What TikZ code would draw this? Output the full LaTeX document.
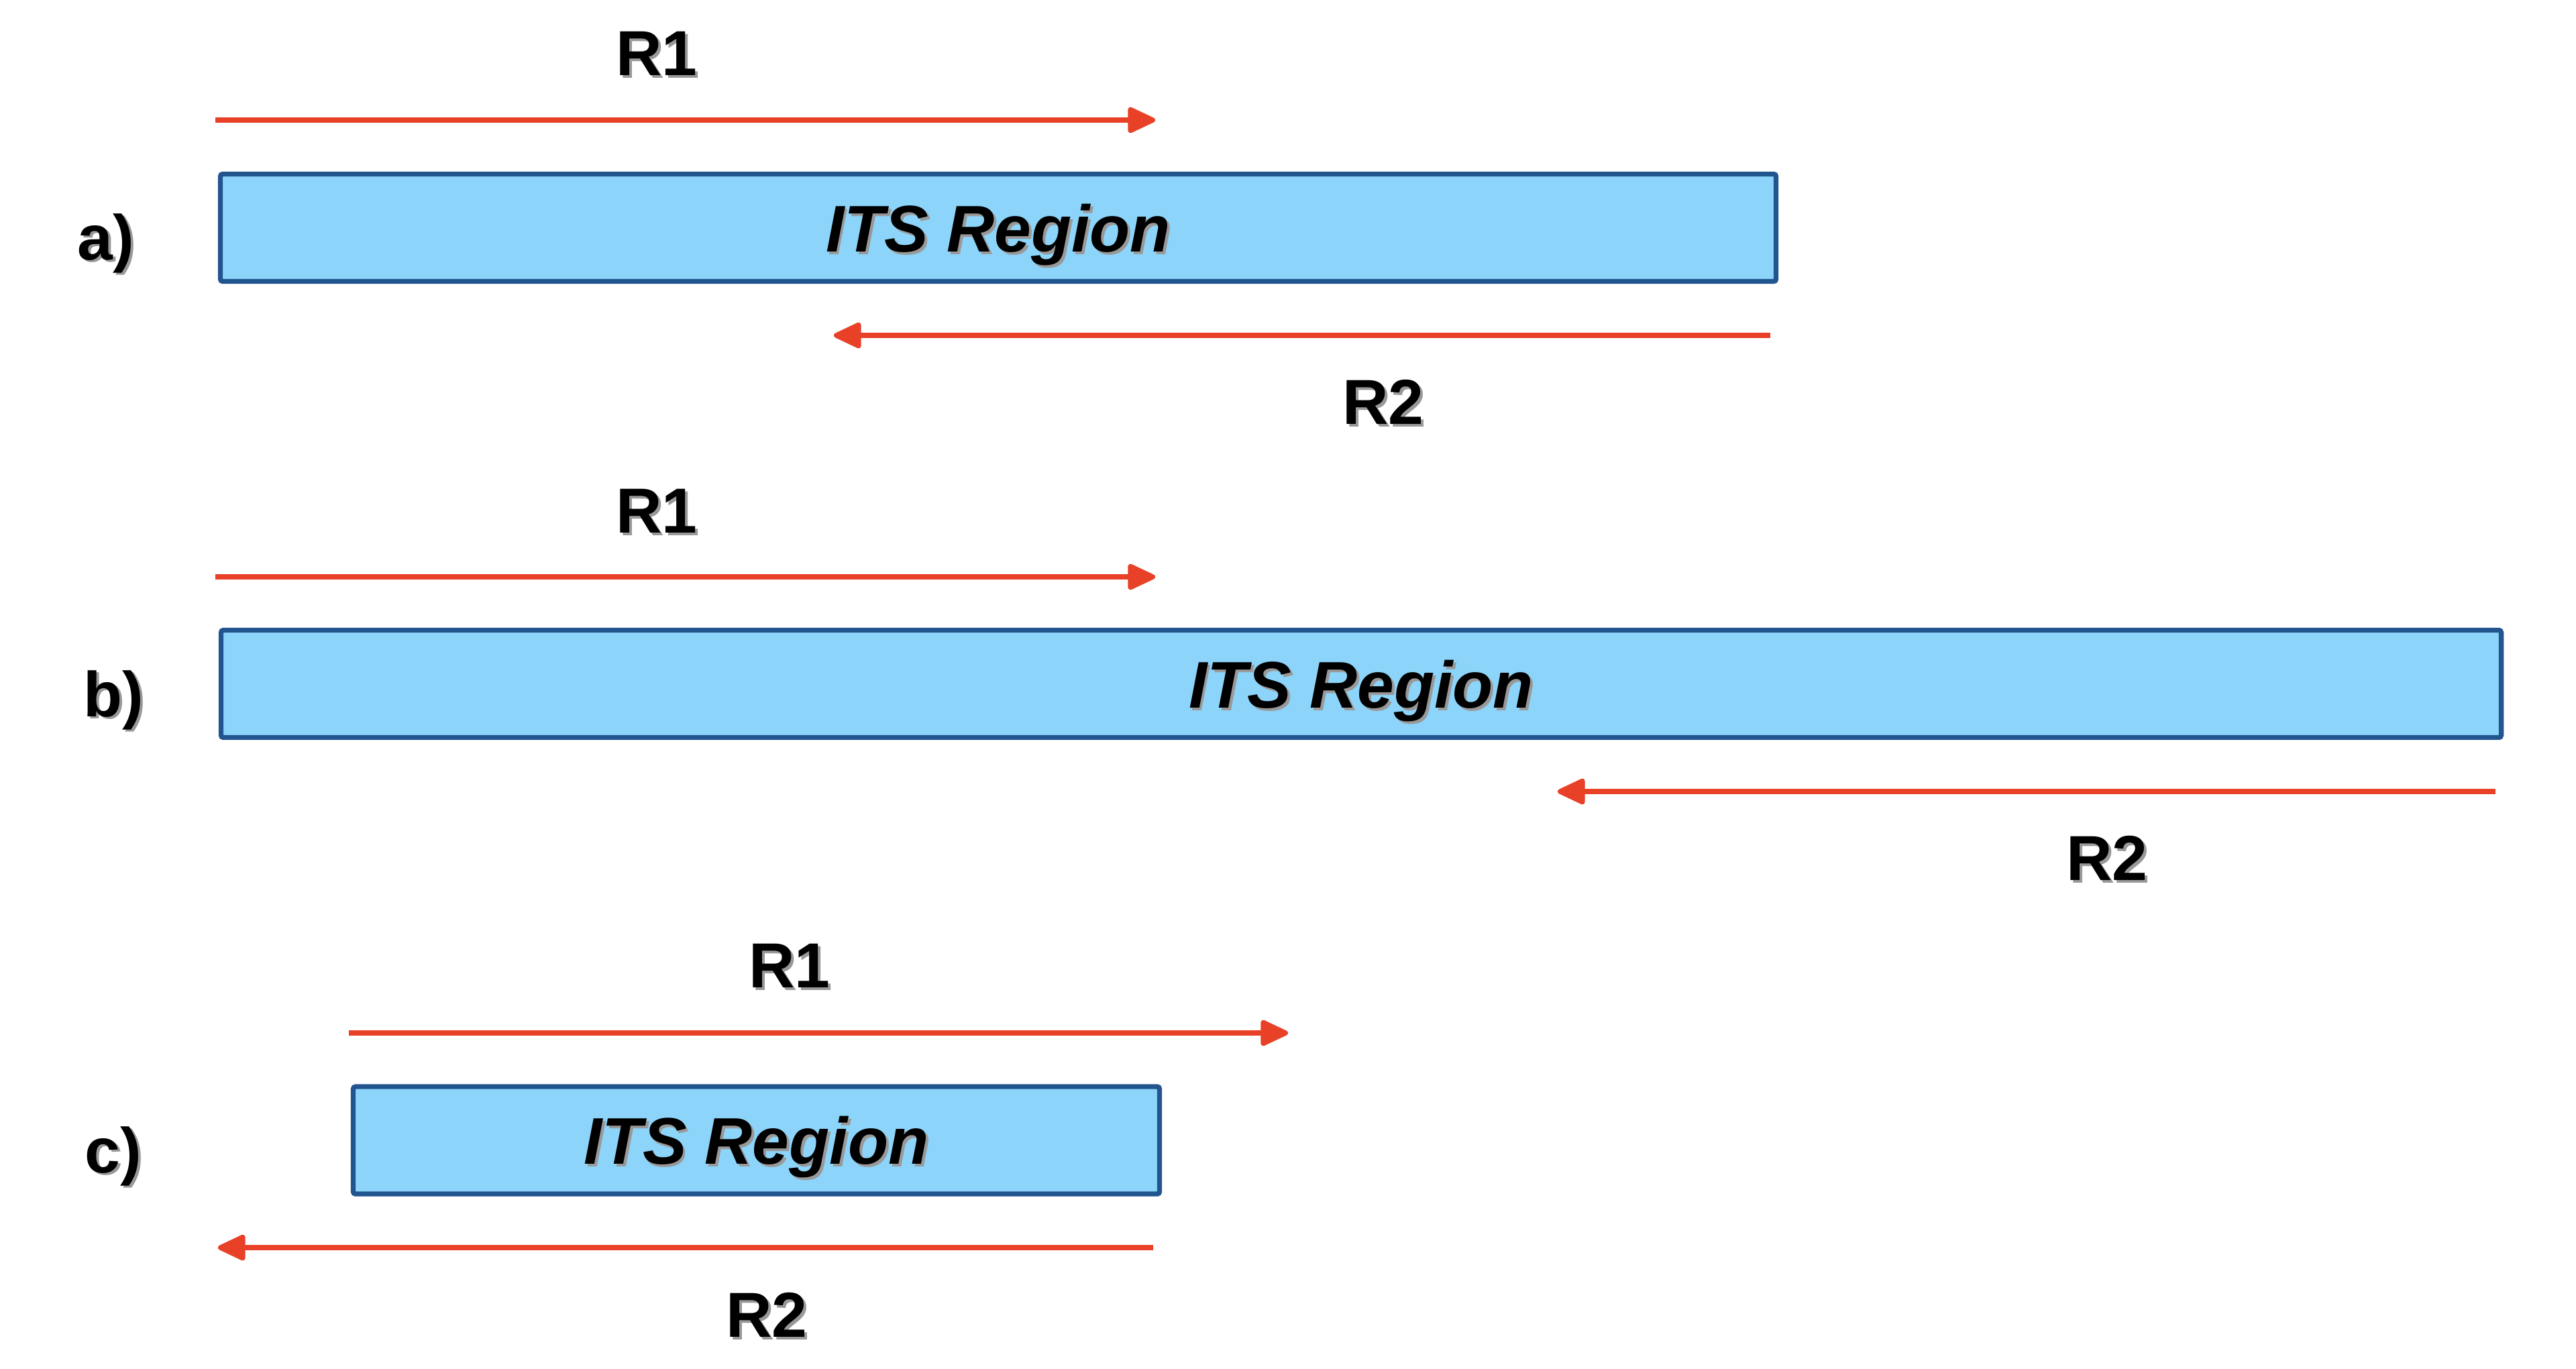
\documentclass[tikz,border=0pt]{standalone}
\usepackage{fontspec}
\setmainfont{Liberation Sans}
\usetikzlibrary{arrows.meta}
\definecolor{boxfill}{RGB}{141,212,250}
\definecolor{boxline}{RGB}{34,85,143}
\definecolor{arrred}{RGB}{232,65,40}
\newcommand\shtxt[1]{\leavevmode\rlap{\hspace{1.1pt}\raisebox{-1.1pt}{\textcolor{black!40}{#1}}}#1}
\tikzset{
  region/.style={draw=boxline, fill=boxfill, line width=2.1pt, rounded corners=1pt,
    inner sep=0pt, text depth=0pt, minimum height=1.60cm,
    font=\fontsize{28}{30}\selectfont\bfseries\itshape},
  lbl/.style={inner sep=0pt, text depth=0pt, font=\fontsize{27}{30}\selectfont\bfseries},
  tag/.style={inner sep=0pt, anchor=base, font=\fontsize{27}{30}\selectfont\bfseries},
  rarrow/.style={draw=arrred, line width=2.1pt,
    -{Triangle[length=4.6mm,width=4.1mm,round]}}
}
\begin{document}
\begin{tikzpicture}
\useasboundingbox (0,0) rectangle (38.4,-20.4);
% ---------- a)
\node[tag] (taga) at (1.58,-3.87) {\shtxt{a)}};
\node[region, minimum width=23.19cm] (boxa) at (14.88,-3.395) {\shtxt{ITS Region}};
\coordinate (a1s) at (3.21,-1.79);
\coordinate (a1e) at (17.22,-1.79);
\draw[rarrow] (a1s) -- (a1e);
\node[lbl] (r1a) at (9.79,-0.80) {\shtxt{R1}};
\coordinate (a2s) at (26.39,-5.00);
\coordinate (a2e) at (12.43,-5.00);
\draw[rarrow] (a2s) -- (a2e);
\node[lbl] (r2a) at (20.62,-5.99) {\shtxt{R2}};
% ---------- b)
\node[tag] (tagb) at (1.69,-10.68) {\shtxt{b)}};
\node[region, minimum width=33.99cm] (boxb) at (20.29,-10.195) {\shtxt{ITS Region}};
\coordinate (b1s) at (3.21,-8.60);
\coordinate (b1e) at (17.22,-8.60);
\draw[rarrow] (b1s) -- (b1e);
\node[lbl] (r1b) at (9.79,-7.62) {\shtxt{R1}};
\coordinate (b2s) at (37.20,-11.80);
\coordinate (b2e) at (23.22,-11.80);
\draw[rarrow] (b2s) -- (b2e);
\node[lbl] (r2b) at (31.41,-12.79) {\shtxt{R2}};
% ---------- c)
\node[tag] (tagc) at (1.69,-17.48) {\shtxt{c)}};
\node[region, minimum width=12.02cm] (boxc) at (11.275,-17.00) {\shtxt{ITS Region}};
\coordinate (c1s) at (5.20,-15.40);
\coordinate (c1e) at (19.20,-15.40);
\draw[rarrow] (c1s) -- (c1e);
\node[lbl] (r1c) at (11.77,-14.40) {\shtxt{R1}};
\coordinate (c2s) at (17.19,-18.60);
\coordinate (c2e) at (3.25,-18.60);
\draw[rarrow] (c2s) -- (c2e);
\node[lbl] (r2c) at (11.43,-19.60) {\shtxt{R2}};
\end{tikzpicture}
\end{document}
